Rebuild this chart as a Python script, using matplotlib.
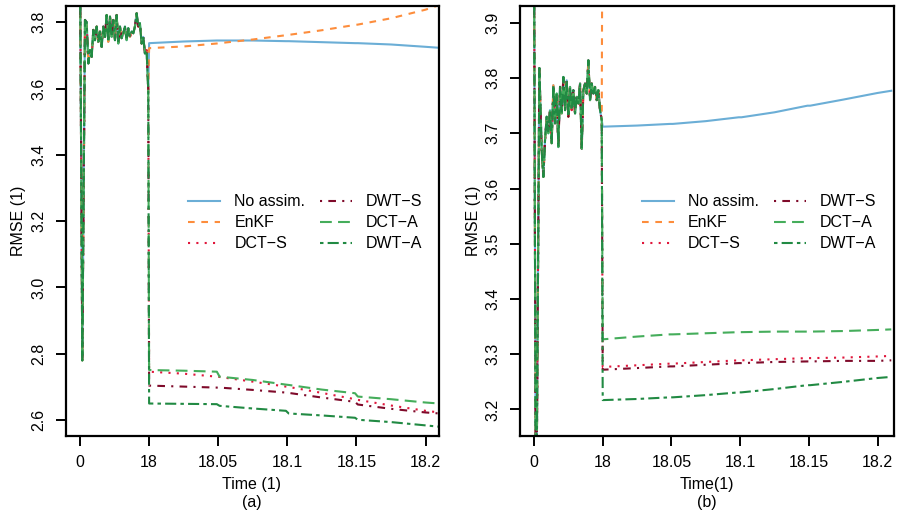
import numpy as np
import matplotlib

matplotlib.use("Agg")
import matplotlib.pyplot as plt

plt.rcParams["font.family"] = ["Liberation Sans", "DejaVu Sans"]
plt.rcParams["lines.scale_dashes"] = False
FS = 11.5

W, H = 897, 520

# ---- data ----
METHODS = ["No assim.", "EnKF", "DCT\u2212S", "DWT\u2212S", "DCT\u2212A", "DWT\u2212A"]
COLORS = ["#6baed6", "#fd8d3c", "#e0163b", "#7f0a2a", "#45ad5b", "#218a43"]
DASHES = [None, (4.8, 4.8), (1.5, 4.5), (1.5, 4.5, 5.5, 4.5), (8.5, 4.5), (2.5, 3, 8, 3)]

# spin-up (common to all methods), panel (a)
T_SPIN_A = [0.0, 0.6, 1.3, 1.73, 2.17, 2.60, 3.04, 3.47, 3.90, 4.34, 4.77, 5.20, 5.64,
            6.07, 6.51, 6.94, 7.37, 7.81, 8.24, 8.67, 9.11, 9.54, 9.98, 10.41, 10.84,
            11.28, 11.71, 12.14, 12.58, 13.01, 13.45, 13.88, 14.31, 14.75, 15.18,
            15.61, 16.05, 16.48, 16.91, 17.35, 17.78]
SPIN_A = [4.00, 2.78, 3.807, 3.800, 3.676, 3.716, 3.696, 3.777, 3.746, 3.787, 3.741,
          3.772, 3.726, 3.787, 3.756, 3.822, 3.741, 3.817, 3.756, 3.807, 3.746, 3.822,
          3.736, 3.787, 3.752, 3.767, 3.787, 3.746, 3.782, 3.756, 3.772, 3.767, 3.787,
          3.827, 3.787, 3.797, 3.736, 3.756, 3.706, 3.716, 3.595]

# spin-up, panel (b)
T_SPIN_B = [0.0, 0.52, 1.40, 2.01, 2.45, 2.88, 3.32, 3.76, 4.19, 4.63, 5.07, 5.50,
            5.94, 6.38, 6.82, 7.25, 7.69, 8.13, 8.56, 9.00, 9.44, 9.87, 10.31, 10.75,
            11.18, 11.62, 12.06, 12.50, 12.93, 13.37, 13.81, 14.24, 14.68, 15.12,
            15.55, 15.99, 16.43, 16.86, 17.30, 17.74]
SPIN_B = [4.05, 2.90, 3.818, 3.669, 3.621, 3.687, 3.730, 3.700, 3.742, 3.682, 3.787,
          3.718, 3.772, 3.675, 3.784, 3.736, 3.802, 3.742, 3.796, 3.730, 3.784, 3.742,
          3.778, 3.736, 3.766, 3.754, 3.790, 3.672, 3.778, 3.790, 3.772, 3.832, 3.760,
          3.790, 3.772, 3.784, 3.760, 3.778, 3.742, 3.724]

# after the spin-up
T_POST = [18.0, 18.025, 18.049, 18.051, 18.075, 18.099, 18.101, 18.125, 18.149,
          18.151, 18.175, 18.2, 18.21]

NOASSIM_A = [3.737, 3.742, 3.745, 3.745, 3.745, 3.743, 3.743, 3.740, 3.737, 3.737, 3.733, 3.726, 3.723]
ENKF_A = [3.722, 3.727, 3.736, 3.737, 3.748, 3.761, 3.762, 3.776, 3.792, 3.793, 3.812, 3.838, 3.852]
DCTS_A = [2.746, 2.740, 2.731, 2.730, 2.716, 2.701, 2.700, 2.682, 2.663, 2.661, 2.644, 2.628, 2.623]
DWTS_A = [2.704, 2.701, 2.698, 2.698, 2.691, 2.683, 2.682, 2.668, 2.655, 2.647, 2.634, 2.623, 2.620]
DCTA_A = [2.751, 2.749, 2.746, 2.731, 2.721, 2.707, 2.706, 2.692, 2.681, 2.671, 2.663, 2.653, 2.650]
DWTA_A = [2.650, 2.649, 2.648, 2.643, 2.635, 2.628, 2.620, 2.614, 2.607, 2.601, 2.594, 2.584, 2.580]

NOASSIM_B = [3.712, 3.714, 3.717, 3.717, 3.722, 3.729, 3.729, 3.738, 3.750, 3.750, 3.761, 3.773, 3.777]
ENKF_B = [4.30, 4.31, 4.32, 4.32, 4.33, 4.34, 4.34, 4.35, 4.36, 4.36, 4.37, 4.38, 4.38]
DCTS_B = [3.277, 3.280, 3.283, 3.283, 3.286, 3.289, 3.289, 3.291, 3.293, 3.293, 3.294, 3.296, 3.297]
DWTS_B = [3.272, 3.275, 3.278, 3.278, 3.281, 3.284, 3.284, 3.286, 3.287, 3.287, 3.288, 3.288, 3.289]
DCTA_B = [3.327, 3.332, 3.336, 3.336, 3.338, 3.340, 3.340, 3.341, 3.341, 3.341, 3.342, 3.344, 3.345]
DWTA_B = [3.217, 3.219, 3.222, 3.222, 3.226, 3.231, 3.231, 3.237, 3.244, 3.244, 3.250, 3.257, 3.259]

XTICKS = [0, 18, 18.05, 18.1, 18.15, 18.2]
XTICKLABELS = ["0", "18", "18.05", "18.1", "18.15", "18.2"]
YTICKS_A = [2.6, 2.8, 3.0, 3.2, 3.4, 3.6, 3.8]
YTICKS_B = [3.2, 3.3, 3.4, 3.5, 3.6, 3.7, 3.8, 3.9]


# broken time axis: 0..18 squeezed into one unit, then 0.05 per unit
def fwd(t):
    t = np.asarray(t, dtype=float)
    return np.where(t <= 18, t / 18.0, 1 + (t - 18) / 0.05)


def inv(u):
    u = np.asarray(u, dtype=float)
    return np.where(u <= 1, u * 18.0, 18 + (u - 1) * 0.05)


def px_box(left, right, top, bottom):
    return [left / W, 1 - bottom / H, (right - left) / W, (bottom - top) / H]


def panel(ax, t_spin, spin, posts, ylim, yticks, ulim, leg_x, leg_y):
    ax.set_xscale("function", functions=(fwd, inv))
    for name, col, dash, post in zip(METHODS, COLORS, DASHES, posts):
        t = list(t_spin) + T_POST
        y = list(spin) + list(post)
        ln, = ax.plot(t, y, color=col, lw=1.5, label=name)
        if dash is not None:
            ln.set_dashes(dash)
    ax.set_xlim(float(inv(ulim[0])), float(inv(ulim[1])))
    ax.set_ylim(*ylim)
    ax.set_xticks(XTICKS)
    ax.set_xticklabels(XTICKLABELS)
    ax.xaxis.set_minor_locator(matplotlib.ticker.NullLocator())
    ax.set_yticks(yticks)
    ax.set_yticklabels([f"{v:.1f}" for v in yticks], rotation=90, va="center")
    ax.tick_params(length=7, width=1.4, labelsize=FS, pad=7, color="black")
    for s in ax.spines.values():
        s.set_linewidth(1.6)
    ax.legend(ncol=2, loc="upper left", bbox_to_anchor=(leg_x, leg_y), frameon=False,
              borderpad=0, borderaxespad=0, handlelength=2.0, handletextpad=0.9,
              columnspacing=0.9, labelspacing=0.38, fontsize=FS)


fig = plt.figure(figsize=(W / 100, H / 100), dpi=100)
ax_a = fig.add_axes(px_box(65.7, 439, 5.7, 436))
ax_b = fig.add_axes(px_box(520, 894, 5.7, 436))

panel(ax_a, T_SPIN_A, SPIN_A, [NOASSIM_A, ENKF_A, DCTS_A, DWTS_A, DCTA_A, DWTA_A],
      (2.552, 3.85), YTICKS_A, (-0.207, 5.195), 0.328, 0.562)
panel(ax_b, T_SPIN_B, SPIN_B, [NOASSIM_B, ENKF_B, DCTS_B, DWTS_B, DCTA_B, DWTA_B],
      (3.152, 3.931), YTICKS_B, (-0.204, 5.24), 0.326, 0.562)

fig.text(19 / W, 1 - 221 / H, "RMSE (1)", rotation=90, ha="center", va="center", fontsize=FS)
fig.text(473 / W, 1 - 221 / H, "RMSE (1)", rotation=90, ha="center", va="center", fontsize=FS)
fig.text(252 / W, 1 - 485 / H, "Time (1)", ha="center", va="center", fontsize=FS)
fig.text(252 / W, 1 - 503 / H, "(a)", ha="center", va="center", fontsize=FS)
fig.text(707 / W, 1 - 485 / H, "Time(1)", ha="center", va="center", fontsize=FS)
fig.text(707 / W, 1 - 503 / H, "(b)", ha="center", va="center", fontsize=FS)

fig.savefig("out.png", dpi=100)
